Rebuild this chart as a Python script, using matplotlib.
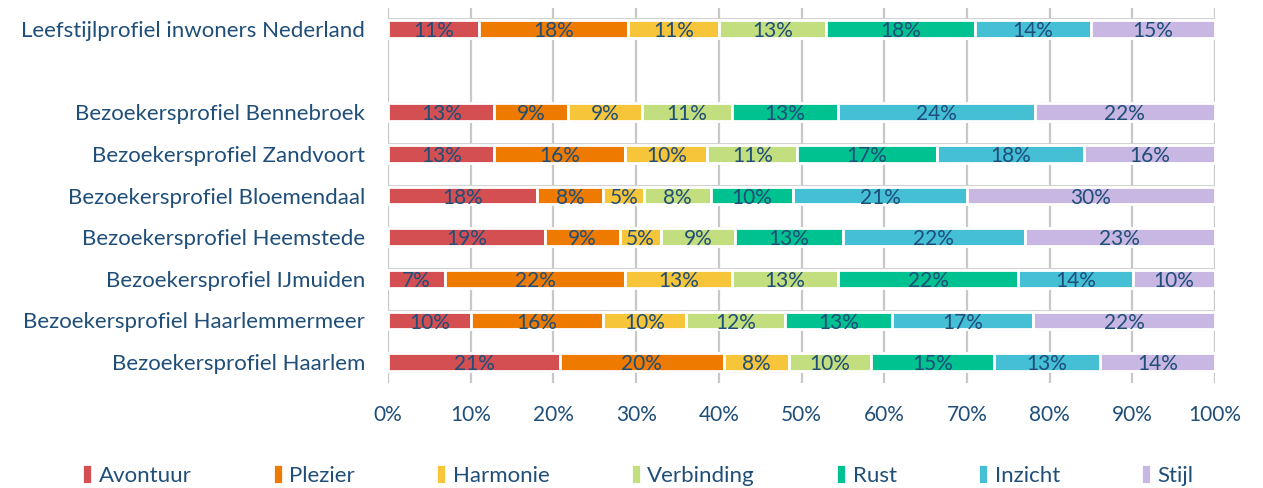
import matplotlib
matplotlib.use('Agg')
import matplotlib.pyplot as plt
from matplotlib.patches import Rectangle
import numpy as np

# categorieen (van boven naar beneden), lege plek tussen Nederland en de rest
rijen = ['Leefstijlprofiel inwoners Nederland', '',
         'Bezoekersprofiel Bennebroek', 'Bezoekersprofiel Zandvoort',
         'Bezoekersprofiel Bloemendaal', 'Bezoekersprofiel Heemstede',
         'Bezoekersprofiel IJmuiden', 'Bezoekersprofiel Haarlemmermeer',
         'Bezoekersprofiel Haarlem']
series = ['Avontuur', 'Plezier', 'Harmonie', 'Verbinding', 'Rust', 'Inzicht', 'Stijl']
kleuren = ['#d44f52', '#ee7b00', '#f6c53a', '#c3de7e', '#00c190', '#44bfd4', '#c9b7e3']

# waarden in procenten per rij (None = lege rij)
nederland = [11, 18, 11, 13, 18, 14, 15]
bennebroek = [13, 9, 9, 11, 13, 24, 22]
zandvoort = [13, 16, 10, 11, 17, 18, 16]
bloemendaal = [18, 8, 5, 8, 10, 21, 30]
heemstede = [19, 9, 5, 9, 13, 22, 23]
ijmuiden = [7, 22, 13, 13, 22, 14, 10]
haarlemmermeer = [10, 16, 10, 12, 13, 17, 22]
haarlem = [21, 20, 8, 10, 15, 13, 14]

data = [nederland, None, bennebroek, zandvoort, bloemendaal, heemstede,
        ijmuiden, haarlemmermeer, haarlem]

tekstkleur = '#1f4e79'
plt.rcParams['font.family'] = ['Lato', 'DejaVu Sans']

fig = plt.figure(figsize=(12.63, 4.88), dpi=100)
ax = fig.add_axes([388/1263, 1-383/488, (1215-388)/1263, (383-8)/488])

y = np.arange(len(rijen))
for i, rij in enumerate(data):
    if rij is None:
        continue
    # grijze rand rond de hele balk
    ax.add_patch(Rectangle((0, i-0.23), 100, 0.46, facecolor='white',
                           edgecolor='#cfcfcf', lw=1.3, zorder=2))
    vals = np.array(rij, dtype=float)
    vals = vals / vals.sum() * 100  # 100% gestapeld
    links = 0
    for j, v in enumerate(vals):
        ax.barh(i, v, left=links, height=0.42, color=kleuren[j],
                edgecolor='white', lw=2, zorder=3,
                label=series[j] if i == 0 else None)
        ax.text(links + v/2, i + 0.05, f'{rij[j]}%', ha='center', va='center',
                color=tekstkleur, fontsize=15, zorder=4)
        links += v

ax.set_xlim(0, 100)
ax.set_ylim(8.5, -0.5)
ax.set_xticks(np.arange(0, 101, 10))
ax.set_xticklabels([f'{t}%' for t in range(0, 101, 10)], fontsize=15, color=tekstkleur)
ax.set_yticks(y)
ax.set_yticklabels(rijen, fontsize=16, color=tekstkleur)
ax.tick_params(axis='both', length=0)
ax.tick_params(axis='x', pad=16)
ax.tick_params(axis='y', pad=16.5)
for s in ax.spines.values():
    s.set_visible(False)
ax.xaxis.grid(True, color='#c8c8c8', lw=1.6, zorder=0)
ax.set_axisbelow(True)

fig.legend(loc='center', bbox_to_anchor=(0.505, 1-475/488), ncol=7, frameon=False,
           fontsize=16, handlelength=0.45, handleheight=1.0, handletextpad=0.3,
           columnspacing=3.65, labelcolor=tekstkleur)

fig.savefig('out.png', dpi=100)
